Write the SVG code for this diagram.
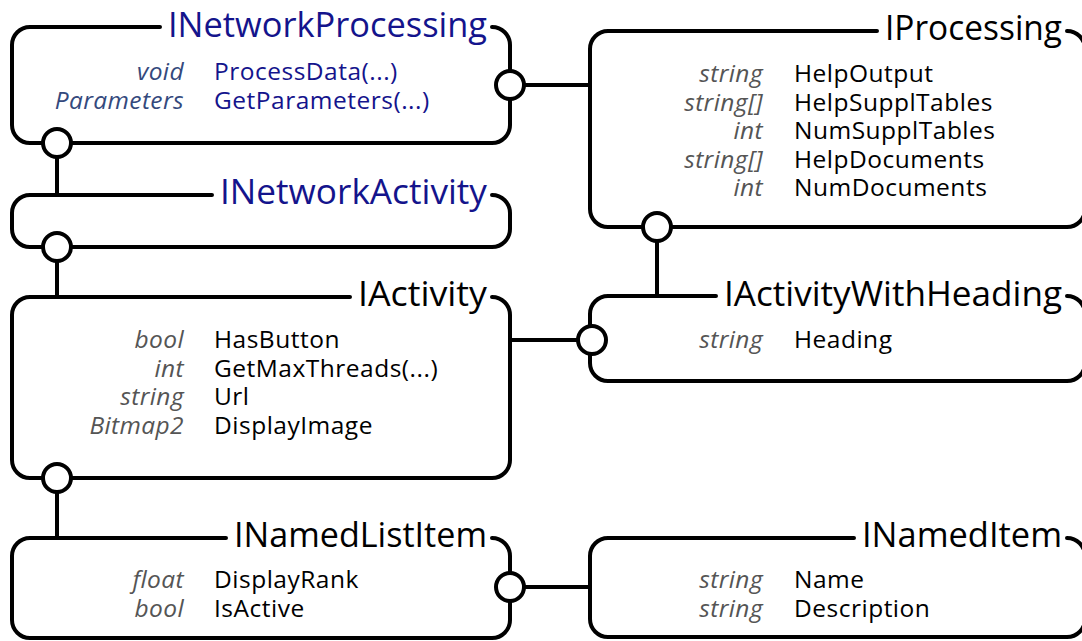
<svg xmlns="http://www.w3.org/2000/svg" width="1082" height="641" viewBox="0 0 1082 641">
<style>
.box{fill:none;stroke:#000;stroke-width:4;stroke-linejoin:round;stroke-linecap:round}
.con{fill:none;stroke:#000;stroke-width:4}
.lol{fill:#fff;stroke:#000;stroke-width:4}
.title{font-family:"Open Sans","Liberation Sans",sans-serif;font-size:34px;fill:#000;text-anchor:end}
.net{fill:#14148c}
.ty{font-family:"Open Sans","Liberation Sans",sans-serif;font-size:24.5px;font-style:italic;fill:#555;text-anchor:end;letter-spacing:0.4px}
.nm{font-family:"Open Sans","Liberation Sans",sans-serif;font-size:24.5px;fill:#000;letter-spacing:0.5px}
.nty{fill:#34497d}
.nnm{fill:#14148c}
</style>
<rect width="1082" height="641" fill="#fff"/>
<g id="connectors">
<line class="con" x1="57" y1="143" x2="57" y2="195"/>
<line class="con" x1="57" y1="247" x2="57" y2="297"/>
<line class="con" x1="57" y1="478" x2="57" y2="538"/>
<line class="con" x1="510" y1="85" x2="590" y2="85"/>
<line class="con" x1="510" y1="340" x2="590" y2="340"/>
<line class="con" x1="657" y1="227" x2="657" y2="296"/>
<line class="con" x1="510" y1="587" x2="590" y2="587"/>
</g>
<g id="INetworkProcessing">
<path class="box" d="M160,27 H30 A18 18 0 0 0 12,45 V125 A18 18 0 0 0 30,143 H492 A18 18 0 0 0 510,125 V45 A18 18 0 0 0 492,27"/>
<text class="title net" x="487" y="37" textLength="319" lengthAdjust="spacingAndGlyphs">INetworkProcessing</text>
<text class="ty nty" x="184" y="80">void</text><text class="nm nnm" x="214" y="80">ProcessData(...)</text>
<text class="ty nty" x="184" y="109">Parameters</text><text class="nm nnm" x="214" y="109">GetParameters(...)</text>
<circle class="lol" cx="57" cy="143" r="14"/>
<circle class="lol" cx="510" cy="85" r="14"/>
</g>
<g id="INetworkActivity">
<path class="box" d="M212,195 H30 A18 18 0 0 0 12,213 V229 A18 18 0 0 0 30,247 H492 A18 18 0 0 0 510,229 V213 A18 18 0 0 0 492,195"/>
<text class="title net" x="487" y="204" textLength="267" lengthAdjust="spacingAndGlyphs">INetworkActivity</text>
<circle class="lol" cx="57" cy="247" r="14"/>
</g>
<g id="IActivity">
<path class="box" d="M350,297 H30 A18 18 0 0 0 12,315 V460 A18 18 0 0 0 30,478 H492 A18 18 0 0 0 510,460 V315 A18 18 0 0 0 492,297"/>
<text class="title" x="487" y="306" textLength="129" lengthAdjust="spacingAndGlyphs">IActivity</text>
<text class="ty" x="184" y="348">bool</text><text class="nm" x="214" y="348">HasButton</text>
<text class="ty" x="184" y="377">int</text><text class="nm" x="214" y="377">GetMaxThreads(...)</text>
<text class="ty" x="184" y="405">string</text><text class="nm" x="214" y="405">Url</text>
<text class="ty" x="184" y="434">Bitmap2</text><text class="nm" x="214" y="434">DisplayImage</text>
<circle class="lol" cx="57" cy="478" r="14"/>
</g>
<g id="INamedListItem">
<path class="box" d="M226,538 H30 A18 18 0 0 0 12,556 V620 A18 18 0 0 0 30,638 H492 A18 18 0 0 0 510,620 V556 A18 18 0 0 0 492,538"/>
<text class="title" x="487" y="547" textLength="253" lengthAdjust="spacingAndGlyphs">INamedListItem</text>
<text class="ty" x="184" y="588">float</text><text class="nm" x="214" y="588">DisplayRank</text>
<text class="ty" x="184" y="617">bool</text><text class="nm" x="214" y="617">IsActive</text>
<circle class="lol" cx="510" cy="587" r="14"/>
</g>
<g id="IProcessing">
<path class="box" d="M877,31 H608 A18 18 0 0 0 590,49 V209 A18 18 0 0 0 608,227 H1067 A18 18 0 0 0 1085,209 V49 A18 18 0 0 0 1067,31"/>
<text class="title" x="1062" y="40" textLength="177" lengthAdjust="spacingAndGlyphs">IProcessing</text>
<text class="ty" x="763" y="82">string</text><text class="nm" x="794" y="82">HelpOutput</text>
<text class="ty" x="763" y="111">string[]</text><text class="nm" x="794" y="111">HelpSupplTables</text>
<text class="ty" x="763" y="139">int</text><text class="nm" x="794" y="139">NumSupplTables</text>
<text class="ty" x="763" y="168">string[]</text><text class="nm" x="794" y="168">HelpDocuments</text>
<text class="ty" x="763" y="196">int</text><text class="nm" x="794" y="196">NumDocuments</text>
<circle class="lol" cx="657" cy="227" r="14"/>
</g>
<g id="IActivityWithHeading">
<path class="box" d="M716,296 H608 A18 18 0 0 0 590,314 V363 A18 18 0 0 0 608,381 H1067 A18 18 0 0 0 1085,363 V314 A18 18 0 0 0 1067,296"/>
<text class="title" x="1062" y="306" textLength="338" lengthAdjust="spacingAndGlyphs">IActivityWithHeading</text>
<text class="ty" x="763" y="348">string</text><text class="nm" x="794" y="348">Heading</text>
<circle class="lol" cx="592" cy="340" r="14"/>
</g>
<g id="INamedItem">
<path class="box" d="M854,538 H608 A18 18 0 0 0 590,556 V619 A18 18 0 0 0 608,637 H1067 A18 18 0 0 0 1085,619 V556 A18 18 0 0 0 1067,538"/>
<text class="title" x="1062" y="547" textLength="200" lengthAdjust="spacingAndGlyphs">INamedItem</text>
<text class="ty" x="763" y="588">string</text><text class="nm" x="794" y="588">Name</text>
<text class="ty" x="763" y="617">string</text><text class="nm" x="794" y="617">Description</text>
</g>
</svg>
